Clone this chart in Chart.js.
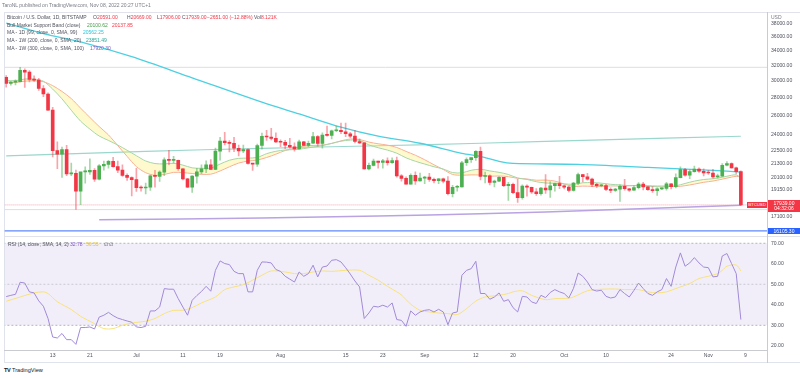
<!DOCTYPE html>
<html><head><meta charset="utf-8">
<script src="https://cdn.jsdelivr.net/npm/chart.js@4.4.0/dist/chart.umd.min.js"></script>
<style>
html,body{margin:0;padding:0;background:#fff;}
body{width:800px;height:378px;position:relative;overflow:hidden;font-family:"Liberation Sans",Arial,sans-serif;}
.t{position:absolute;white-space:nowrap;font-size:5px;line-height:7px;color:#50535e;}
.r{color:#f23645}
canvas{position:absolute;left:0;}
.ln{position:absolute;}
.box{position:absolute;color:#fff;text-align:center;white-space:nowrap;}
</style></head><body>
<div class="ln" style="left:4px;top:12px;width:796px;height:351px;border:1px solid #e0e3eb;border-right:none;box-sizing:border-box"></div>
<canvas id="c1" width="800" height="236" style="top:0"></canvas>
<canvas id="c2" width="800" height="127" style="top:236px"></canvas>
<div class="ln" style="left:4px;top:236px;width:796px;height:1px;background:#e0e3eb"></div>
<div class="ln" style="left:767px;top:12px;width:1px;height:351px;background:#c9cbd1"></div>
<div class="ln" style="left:4px;top:350px;width:763px;height:1px;background:#c9cbd1"></div>

<div class="t" style="left:2px;top:2px;color:#787b86">TaroNL published on TradingView.com, Nov 08, 2022 20:27 UTC+1</div>
<div class="t" style="left:7px;top:13.8px">Bitcoin / U.S. Dollar, 1D, BITSTAMP</div>
<div class="t" style="left:93px;top:13.8px">O<span class="r">20591.00</span></div>
<div class="t" style="left:127px;top:13.8px">H<span class="r">20669.00</span></div>
<div class="t" style="left:157px;top:13.8px">L<span class="r">17906.00</span></div>
<div class="t" style="left:182px;top:13.8px">C<span class="r">17939.00</span></div>
<div class="t r" style="left:207px;top:13.8px">−2651.00 (−12.88%)</div>
<div class="t" style="left:254px;top:13.8px">Vol<span class="r">8.121K</span></div>
<div class="t" style="left:7px;top:21.5px">Bull Market Support Band (close)</div>
<div class="t" style="left:87px;top:21.5px;color:#43a047">20100.62</div>
<div class="t" style="left:112px;top:21.5px;color:#f23645">20137.85</div>
<div class="t" style="left:7px;top:29.2px">MA - 1D (99, close, 0, SMA, 99)</div>
<div class="t" style="left:83px;top:29.2px;color:#26c6da">20562.25</div>
<div class="t" style="left:7px;top:36.8px">MA - 1W (200, close, 0, SMA, 20)</div>
<div class="t" style="left:86px;top:36.8px;color:#26a69a">23851.49</div>
<div class="t" style="left:7px;top:44.5px">MA - 1W (300, close, 0, SMA, 100)</div>
<div class="t" style="left:90px;top:44.5px;color:#7e57c2">17920.30</div>
<div class="t" style="left:771px;top:14px;color:#787b86">USD</div>

<div class="t" style="left:8px;top:241.2px">RSI (14, close, SMA, 14, 2)</div>
<div class="t" style="left:70px;top:241.2px;color:#7e57c2">32.78</div>
<div class="t" style="left:86px;top:241.2px;color:#e3c230">56.53</div>
<div class="t" style="left:104px;top:241.2px">∅ ∅</div>

<div id="bxbtc" class="box" style="left:747px;width:20px;height:6px;line-height:6px;font-size:4.3px;background:#f23645">BTCUSD</div>
<div id="bxlast" class="box" style="left:768px;width:32px;height:12px;font-size:5px;line-height:5.5px;background:#f23645;padding-top:0.5px;box-sizing:border-box">17939.00<br>04:32:06</div>
<div id="bxblue" class="box" style="left:768px;width:32px;height:6.5px;font-size:5px;line-height:6.5px;background:#2962ff">16105.30</div>

<div class="t" style="left:4px;top:366.5px;font-size:5.6px;color:#131722"><b style="letter-spacing:-0.3px">TV</b> TradingView</div>

<script>
// ---------- data ----------
const opens  = [30460,29700,29860,29910,31370,31130,30200,30110,29080,28420,26580,22470,22140,22580,20400,20460,19000,20570,20570,20710,19970,21100,21230,21500,21030,20730,20280,20100,19930,19270,19240,19300,20230,20190,20550,21630,21580,21590,20840,19990,19310,20210,20570,20830,21190,20790,22430,23390,23230,23160,22690,22450,22580,21300,21250,22950,23850,23780,23640,23300,23270,22980,22830,22620,23310,22950,23170,23810,23160,23960,23940,24400,24440,24300,24100,23860,23340,23200,20830,21140,21520,21400,21530,21370,21570,20240,20030,19560,20280,19810,20050,20130,19950,19830,19990,19800,18800,19300,19320,21370,21650,21830,22400,20180,20240,19700,19800,20110,19420,19540,18880,18490,19400,19300,18930,18800,19230,19100,19420,19590,19420,19310,19060,19630,20340,20160,19960,19530,19420,19440,19130,19060,19150,19380,19180,19070,19270,19550,19330,19120,19040,19170,19210,19570,19340,20090,20770,20290,20600,20820,20630,20490,20480,20150,20210,21150,21300,20920,20591];
const highs  = [30680,29940,30150,31750,31550,31320,30650,30340,29440,28550,26880,23300,22800,22980,21350,20730,20440,21000,21720,20860,21200,21520,21580,21860,21520,21180,20400,20150,20880,19420,19650,20300,20700,20670,21820,22500,21950,21600,20860,20040,20260,20870,21180,21550,21650,22700,23750,24250,23420,23750,23000,22990,22650,21300,23080,24180,24440,24650,24190,23500,23460,23650,23220,23470,23350,23390,24240,23920,24200,24880,24460,24880,25200,25200,24250,24450,23600,23200,21340,21690,21520,21680,21800,21800,21870,20350,20150,20400,20570,20480,20200,20450,20050,20000,20050,20170,19450,19450,21500,21800,21820,22480,22800,20550,20330,19880,20180,20120,19700,19630,19950,19500,19500,19320,19190,19300,20350,19770,19650,20190,19480,19400,19700,20470,20370,20460,20060,19610,19560,19530,19260,19220,19500,19950,19220,19420,19680,19700,19350,19350,19250,19250,19700,19600,20400,21000,20870,20750,21080,20930,20830,20700,20790,20380,21300,21480,21370,20990,20669];
const lows   = [29250,29480,29500,29880,29220,29880,29950,28850,28100,26560,21900,20850,20100,20250,20250,17600,17950,19630,20350,19770,19900,20730,20900,20970,20500,20190,19850,18630,18980,19000,18780,19050,19310,19780,20250,21200,21340,20700,19900,19260,18900,19630,20400,20500,20760,20760,21600,23000,22360,22380,21980,22270,21250,20700,21040,22600,23450,23500,23230,22850,22660,22700,22430,22600,22930,22850,23150,22880,22700,23870,23600,24300,24100,23800,23700,23200,23120,20800,20750,21100,20900,20890,21150,21320,20120,19800,19550,19560,19540,19800,19600,19770,19650,19600,19650,18700,18550,19000,19300,21140,21400,21570,19900,19650,19500,19320,19750,19340,18270,18800,18130,18380,18600,18820,18650,18670,18820,18500,19000,19190,19160,18940,19000,19520,19740,19880,19340,19260,19320,19030,18870,18970,18200,19080,18980,19060,19170,19100,19060,18900,18650,19110,19070,19160,19250,20060,20210,20000,20550,20520,20230,20350,20050,20050,20190,21100,20900,20400,17906];
const closes = [29700,29860,29910,31370,31130,30200,30110,29080,28420,26580,22470,22140,22580,20400,20460,19000,20570,20570,20710,19970,21100,21230,21500,21030,20730,20280,20100,19930,19270,19240,19300,20230,20190,20550,21630,21580,21590,20840,19990,19310,20210,20570,20830,21190,20790,22430,23390,23230,23160,22690,22450,22580,21300,21250,22950,23850,23780,23640,23300,23270,22980,22830,22620,23310,22950,23170,23810,23160,23960,23940,24400,24440,24300,24100,23860,23340,23200,20830,21140,21520,21400,21530,21370,21570,20240,20030,19560,20280,19810,20050,20130,19950,19830,19990,19800,18800,19300,19320,21370,21650,21830,22400,20180,20240,19700,19800,20110,19420,19540,18880,18490,19400,19300,18930,18800,19230,19100,19420,19590,19420,19310,19060,19630,20340,20160,19960,19530,19420,19440,19130,19060,19150,19380,19180,19070,19270,19550,19330,19120,19040,19170,19210,19570,19340,20090,20770,20290,20600,20820,20630,20490,20480,20150,20210,21150,21300,20920,20590,17939];

// indicator readings: [day index, value]
const sma20 = [[0,29877],[2,29808],[4,29977],[6,30017],[8,29907],[10,29422],[12,28721],[14,27882],[16,26801],[18,25786],[20,24832],[22,23980],[24,22943],[26,21946],[28,21031],[30,20506],[32,20291],[34,20357],[36,20537],[38,20514],[40,20437],[42,20370],[44,20381],[46,20653],[48,21013],[50,21343],[52,21516],[54,21617],[56,21840],[58,22145],[60,22482],[62,22684],[64,22898],[66,22956],[68,22993],[70,23153],[72,23396],[74,23584],[76,23529],[78,23281],[80,23114],[82,22987],[84,22764],[86,22395],[88,22043],[90,21635],[92,21187],[94,20779],[96,20357],[98,20293],[100,20321],[102,20305],[104,20211],[106,20227],[108,20171],[110,20030],[112,19976],[114,19873],[116,19885],[118,19801],[120,19563],[122,19369],[124,19397],[126,19376],[128,19371],[130,19412],[132,19403],[134,19429],[136,19454],[138,19426],[140,19400],[142,19404],[144,19351],[146,19429],[148,19557],[150,19704],[152,19809],[154,19964],[156,20134],[157,20197],[158,20138]];
const ema21 = [[0,30064],[2,30033],[4,30244],[6,30228],[8,29969],[10,29007],[12,27856],[14,26567],[16,25396],[18,24571],[20,23875],[22,23441],[24,22995],[26,22507],[28,22000],[30,21526],[32,21297],[34,21265],[36,21321],[38,21160],[40,20921],[42,20884],[44,20901],[46,21254],[48,21591],[50,21760],[52,21786],[54,21847],[56,22188],[58,22409],[60,22532],[62,22565],[64,22662],[66,22808],[68,22942],[70,23157],[72,23367],[74,23473],[76,23437],[78,23013],[80,22743],[82,22518],[84,22233],[86,21808],[88,21500],[90,21255],[92,21017],[94,20822],[96,20516],[98,20495],[100,20712],[102,20803],[104,20656],[106,20535],[108,20353],[110,20062],[112,19938],[114,19751],[116,19649],[118,19625],[120,19579],[122,19541],[124,19664],[126,19676],[128,19634],[130,19540],[132,19494],[134,19429],[136,19427],[138,19391],[140,19342],[142,19352],[144,19418],[146,19609],[148,19801],[150,19932],[152,19997],[154,20119],[156,20289],[157,20316],[158,20100]];
const ma99d  = [[0,38150],[8,36500],[16,35300],[27,33180],[40,30400],[55,27470],[63,26170],[72,24770],[80,23860],[89,23170],[98,22210],[102,21940],[106,21490],[109,21310],[123,21220],[138,20960],[152,20700],[158,20560]];
const ma200w = [[0,21990],[10,22120],[30,22400],[55,22690],[80,22930],[102,23170],[130,23520],[158,23850]];
const ma300w = [[20,16860],[55,16990],[80,17130],[102,17290],[130,17580],[158,17920]];
const levelHigh = 31750, levelLow = 17592, lastPrice = 17939, blueLevel = 16105.30;

const rsi = [44,44.6,45.1,51,50.6,46.3,45.8,41.9,39.3,33.3,24.3,23.8,26,23,23,20.7,28.9,28.9,29.2,28.2,34,34.9,36.3,34.7,33.5,32.8,32.1,31.5,29.2,28.9,29.5,37,37,38.9,47.9,47.6,47.6,43,38.9,34.9,42.2,44.5,46.5,49,46.6,56.8,61.4,60.1,59.6,56.3,55.2,55.2,46.3,46.3,56.8,60.9,60.8,60.4,57.2,56.3,53.9,52.5,51.1,56,53.9,55.2,59.3,53.6,58.4,58.9,61.7,62,60.9,58.1,55,51.6,48.7,33.3,36,39.3,38.9,39.8,38.9,40.9,32.8,32.4,29.5,37,34.9,36.5,37.3,37.6,36.5,37.8,36.5,30.3,36,36.5,54.4,56.8,57.6,61.2,45.5,45.5,42.7,43.8,45.8,41.7,42.5,38.6,36.5,44.1,43.8,41.4,40.6,44.6,43.5,46,47.4,46.3,45.5,43.3,48,55.5,53.9,51.1,47.4,46.7,47.1,44.1,43.3,43.8,47.4,45.5,43.8,47,50.6,47.9,45.5,44.6,46.3,47.4,52.8,49,58.4,65.3,58.8,60.4,63,60.4,58.4,58.1,53.6,53.9,63.8,65,60.1,55.2,32.78];
const rsiMa = [[0,41.7],[3,43.8],[6,45.8],[8,46.3],[9,45.5],[11,41.5],[14,37.7],[16,34.4],[19,30.8],[21,28.4],[23,28.4],[25,30],[27,31.1],[30,32],[32,33.3],[34,35.7],[36,37.3],[38,37.3],[40,38.6],[42,40.9],[45,43.8],[47,47.4],[49,48.7],[51,49.8],[53,52],[55,54.4],[57,56.5],[60,56],[62,55.2],[64,55.2],[66,56],[68,56.5],[70,56.3],[73,56.8],[76,56.8],[78,54.4],[80,52],[82,49],[84,46.3],[85,44.8],[87,40.3],[89,37.3],[91,36.5],[93,36],[95,35.7],[97,35.2],[99,38.1],[101,41.8],[103,43.8],[106,44.6],[108,45.5],[109,46.3],[111,46.8],[113,44.6],[116,42.5],[118,43],[121,43.2],[122,43.8],[125,46.8],[128,47.6],[131,47.7],[133,47.4],[136,47.4],[138,46.3],[140,45.8],[142,46.3],[144,47.9],[147,50.4],[149,52.8],[151,53.9],[153,55.2],[154,56.8],[155,58.8],[157,59.4],[158,56.5]];

const timeTickIdx  = [10,18,28,38,46,59,73,81,90,101,109,120,129,143,151,159];
const timeTickText = ['13','21','Jul','11','19','Aug','15','23','Sep','12','20','Oct','10','24','Nov','9'];
const priceTicks = [38000,36000,34000,32000,30000,28000,26000,24000,22500,21300,20100,19150,17100];
const rsiTicks = [70,60,50,40,30,20];

// ---------- drawing ----------
const X_MIN = -0.32, X_MAX = 163.62;
const UP = '#4caf50', DN = '#f23645';
const FONT = {family:'"Liberation Sans", Arial, sans-serif', size:5.1};
const pts = a => a.map(p => ({x:p[0], y:p[1]}));
const hline = v => [{x:X_MIN-2, y:v},{x:X_MAX+2, y:v}];
const idx = closes.map((_, i) => i);
const isUp = idx.map(i => closes[i] >= opens[i]);

const lineDs = (data, color, w, extra) => Object.assign({type:'line', data, borderColor:color, borderWidth:w, pointRadius:0, fill:false, tension:0.3}, extra||{});
const noPad = s => { s.paddingTop = 0; s.paddingBottom = 0; s.paddingLeft = 0; s.paddingRight = 0; };

const xAxisBase = {
  type:'linear', min:X_MIN, max:X_MAX, bounds:'data', offset:false,
  grid:{display:false, drawTicks:false}, border:{display:false}
};

const main = new Chart(document.getElementById('c1'), {
  type:'line',
  data:{datasets:[
    {type:'bar', data: idx.map(i => ({x:i, y:[opens[i], closes[i]]})), backgroundColor: isUp.map(u => u?UP:DN), barThickness:3, grouped:false, minBarLength:1, borderWidth:0},
    {type:'bar', data: idx.map(i => ({x:i, y:[lows[i], highs[i]]})), backgroundColor: isUp.map(u => u?'rgba(76,175,80,0.5)':'rgba(242,54,69,0.45)'), barThickness:1, grouped:false, borderWidth:0},
    lineDs(pts(ma99d), '#4dd0e1', 1.3),
    lineDs(pts(ema21), '#a5d6a7', 1, {fill:{target:4, above:'rgba(255,235,59,0.25)', below:'rgba(255,235,59,0.25)'}}),
    lineDs(pts(sma20), '#f7a9a2', 1),
    lineDs(pts(ma200w), '#9ad7cd', 1.2),
    lineDs(pts(ma300w), '#b9a3e3', 1.5),
    lineDs(hline(lastPrice), 'rgba(242,54,69,0.45)', 1, {borderDash:[1,1], tension:0}),
    lineDs(hline(levelHigh), '#dcdee4', 1, {tension:0}),
    lineDs(hline(levelLow), '#dcdee4', 1, {tension:0}),
    lineDs(hline(blueLevel), 'rgba(41,98,255,0.75)', 1.3, {tension:0})
  ]},
  options:{
    responsive:false, animation:false, devicePixelRatio:1, events:[],
    layout:{autoPadding:false, padding:{left:4.7, top:12, right:0, bottom:0}},
    plugins:{legend:{display:false}, tooltip:{enabled:false}},
    scales:{
      x: Object.assign({}, xAxisBase, {display:false, afterFit: noPad}),
      y:{type:'logarithmic', position:'right', min:15768, max:39942, bounds:'data',
         grid:{display:false, drawTicks:false}, border:{display:false},
         afterFit: s => { s.width = 33; noPad(s); },
         afterBuildTicks: s => { s.ticks = priceTicks.map(v => ({value:v})); },
         ticks:{autoSkip:false, padding:4, color:'#50535e', font:FONT, callback: v => Number(v).toFixed(2)}}
    }
  }
});

const rsiChart = new Chart(document.getElementById('c2'), {
  type:'line',
  data:{datasets:[
    lineDs(rsi.map((v,i) => ({x:i, y:v})), '#a08ad8', 1, {tension:0}),
    lineDs(pts(rsiMa), '#f7e27c', 1, {tension:0.3}),
    lineDs(hline(70), '#b2b5be', 1, {borderDash:[2,2], tension:0}),
    lineDs(hline(50), '#c8cad0', 1, {borderDash:[2,2], tension:0}),
    lineDs(hline(30), '#b2b5be', 1, {borderDash:[2,2], tension:0}),
    lineDs(hline(70), 'rgba(0,0,0,0)', 0, {tension:0, fill:{value:30}, backgroundColor:'rgba(126,87,194,0.1)'})
  ]},
  options:{
    responsive:false, animation:false, devicePixelRatio:1, events:[],
    layout:{autoPadding:false, padding:{left:4.7, top:0.5, right:0, bottom:0}},
    plugins:{legend:{display:false}, tooltip:{enabled:false}},
    scales:{
      x: Object.assign({}, xAxisBase, {
        afterFit: s => { s.height = 13; noPad(s); },
        afterBuildTicks: s => { s.ticks = timeTickIdx.map(v => ({value:v})); },
        ticks:{autoSkip:false, maxRotation:0, padding:3, color:'#50535e', font:FONT,
               callback: v => { const k = timeTickIdx.indexOf(v); return k >= 0 ? timeTickText[k] : ''; }}
      }),
      y:{type:'linear', position:'right', min:17.95, max:73.3, bounds:'data',
         grid:{display:false, drawTicks:false}, border:{display:false},
         afterFit: s => { s.width = 33; noPad(s); },
         afterBuildTicks: s => { s.ticks = rsiTicks.map(v => ({value:v})); },
         ticks:{autoSkip:false, padding:4, color:'#50535e', font:FONT, callback: v => Number(v).toFixed(2)}}
    }
  }
});

// price label boxes placed from the price scale
const ys = main.scales.y;
const yLast = ys.getPixelForValue(lastPrice);
document.getElementById('bxbtc').style.top = (yLast - 3) + 'px';
document.getElementById('bxlast').style.top = (yLast - 4.5) + 'px';
document.getElementById('bxblue').style.top = (ys.getPixelForValue(blueLevel) - 3.25) + 'px';
</script>
</body></html>
